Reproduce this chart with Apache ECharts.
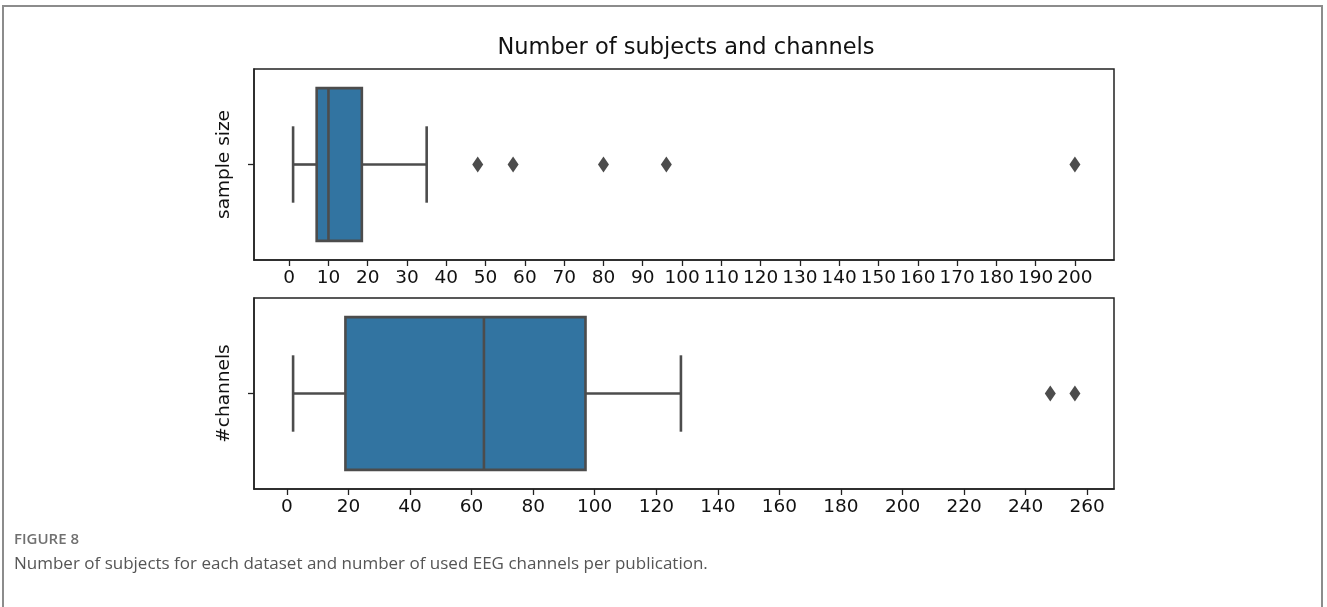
<!DOCTYPE html>
<html>
<head>
<meta charset="utf-8">
<title>Number of subjects and channels</title>
<script src="https://cdn.jsdelivr.net/npm/echarts@6/dist/echarts.min.js"></script>
<style>
  html, body { margin: 0; padding: 0; background: #ffffff; }
  #chart { width: 1327px; height: 607px; }
</style>
</head>
<body>
<div id="chart"></div>
<script>
// Box summaries: [lower whisker, Q1, median, Q3, upper whisker]
const sampleSizeBox = [1, 7, 10, 18.5, 35];
const sampleSizeOutliers = [48, 57, 80, 96, 200];
const channelsBox = [2, 19, 64, 97, 128];
const channelsOutliers = [248, 256];

// Tick positions for each panel's x axis
const sampleSizeTicks = [0, 10, 20, 30, 40, 50, 60, 70, 80, 90, 100, 110, 120, 130, 140, 150, 160, 170, 180, 190, 200];
const channelsTicks = [0, 20, 40, 60, 80, 100, 120, 140, 160, 180, 200, 220, 240, 260];

const panelLabels = ['sample size', '#channels'];
const titleText = 'Number of subjects and channels';
const figureLabel = 'FIGURE 8';
const captionText = 'Number of subjects for each dataset and number of used EEG channels per publication.';

const BOX_FILL = '#3274a1';
const LINE = '#4c4c4c';
const SPINE = '#222222';
const TEXT = '#111111';
const FONT = '"DejaVu Sans"';

// x range padded by 5% of the data span on each side
function paddedRange(box, outliers) {
  const all = box.concat(outliers);
  const lo = Math.min.apply(null, all), hi = Math.max.apply(null, all);
  const pad = (hi - lo) * 0.05;
  return [lo - pad, hi + pad];
}

// Horizontal box with whiskers and half-width caps, centred on y = 0.5
function renderBox(params, api) {
  const lo = api.value(0), q1 = api.value(1), md = api.value(2), q3 = api.value(3), hi = api.value(4);
  const yc = 0.5, half = 0.4, cap = 0.2;
  const yTop = api.coord([q1, yc + half])[1];
  const yBot = api.coord([q1, yc - half])[1];
  const yMid = api.coord([q1, yc])[1];
  const cTop = api.coord([q1, yc + cap])[1];
  const cBot = api.coord([q1, yc - cap])[1];
  const xLo = api.coord([lo, yc])[0];
  const xQ1 = api.coord([q1, yc])[0];
  const xMd = api.coord([md, yc])[0];
  const xQ3 = api.coord([q3, yc])[0];
  const xHi = api.coord([hi, yc])[0];
  const ls = { stroke: LINE, lineWidth: 2.6 };
  return {
    type: 'group',
    children: [
      { type: 'line', shape: { x1: xLo, y1: yMid, x2: xQ1, y2: yMid }, style: ls },
      { type: 'line', shape: { x1: xQ3, y1: yMid, x2: xHi, y2: yMid }, style: ls },
      { type: 'line', shape: { x1: xLo, y1: cTop, x2: xLo, y2: cBot }, style: ls },
      { type: 'line', shape: { x1: xHi, y1: cTop, x2: xHi, y2: cBot }, style: ls },
      { type: 'rect', shape: { x: xQ1, y: yTop, width: xQ3 - xQ1, height: yBot - yTop },
        style: { fill: BOX_FILL, stroke: LINE, lineWidth: 2.6 } },
      { type: 'line', shape: { x1: xMd, y1: yTop, x2: xMd, y2: yBot }, style: ls }
    ]
  };
}

const panels = [
  { box: sampleSizeBox, outliers: sampleSizeOutliers, ticks: sampleSizeTicks, top: 69 },
  { box: channelsBox, outliers: channelsOutliers, ticks: channelsTicks, top: 298 }
];

const grids = [], xAxes = [], yAxes = [], series = [];
panels.forEach(function (p, i) {
  const range = paddedRange(p.box, p.outliers);
  grids.push({
    left: 254, top: p.top, width: 860, height: 191,
    show: true, borderColor: SPINE, borderWidth: 1.5, backgroundColor: 'transparent'
  });
  xAxes.push({
    type: 'value', gridIndex: i, min: range[0], max: range[1],
    splitLine: { show: false },
    axisLine: { show: true, onZero: false, lineStyle: { color: SPINE, width: 1.5 } },
    axisTick: { show: true, length: 6, customValues: p.ticks, lineStyle: { color: SPINE, width: 1.3 } },
    axisLabel: { show: true, customValues: p.ticks, margin: 9, color: TEXT, fontFamily: FONT, fontSize: 18.5, hideOverlap: false }
  });
  yAxes.push({
    type: 'value', gridIndex: i, min: 0, max: 1,
    name: panelLabels[i], nameLocation: 'middle', nameRotate: 90, nameGap: 20,
    nameTextStyle: { color: TEXT, fontFamily: FONT, fontSize: 18.5 },
    splitLine: { show: false },
    axisLine: { show: true, onZero: false, lineStyle: { color: SPINE, width: 1.5 } },
    axisTick: { show: true, length: 6, customValues: [0.5], lineStyle: { color: SPINE, width: 1.3 } },
    axisLabel: { show: false }
  });
  series.push({
    type: 'custom', xAxisIndex: i, yAxisIndex: i,
    renderItem: renderBox,
    encode: { x: [0, 1, 2, 3, 4] },
    data: [p.box],
    silent: true
  });
  series.push({
    type: 'scatter', xAxisIndex: i, yAxisIndex: i,
    symbol: 'diamond', symbolSize: [11, 16],
    itemStyle: { color: LINE, opacity: 1 },
    data: p.outliers.map(function (v) { return [v, 0.5]; }),
    silent: true
  });
});

const chart = echarts.init(document.getElementById('chart'), null, { renderer: 'canvas' });
chart.setOption({
  animation: false,
  backgroundColor: '#ffffff',
  grid: grids,
  xAxis: xAxes,
  yAxis: yAxes,
  series: series,
  graphic: [
    { type: 'rect', shape: { x: 3, y: 6, width: 1319, height: 640 },
      style: { fill: 'none', stroke: '#8c8c8c', lineWidth: 2 }, silent: true },
    { type: 'text', x: 686, y: 60,
      style: { text: titleText, fill: TEXT, font: '22.5px "DejaVu Sans"', textAlign: 'center', textVerticalAlign: 'bottom' } },
    { type: 'text', x: 14, y: 540,
      style: { text: figureLabel, fill: '#707070', font: '600 15px "Open Sans"', textAlign: 'left', textVerticalAlign: 'middle' } },
    { type: 'text', x: 14, y: 564,
      style: { text: captionText, fill: '#555555', font: '17px "Open Sans"', textAlign: 'left', textVerticalAlign: 'middle' } }
  ]
});
</script>
</body>
</html>
